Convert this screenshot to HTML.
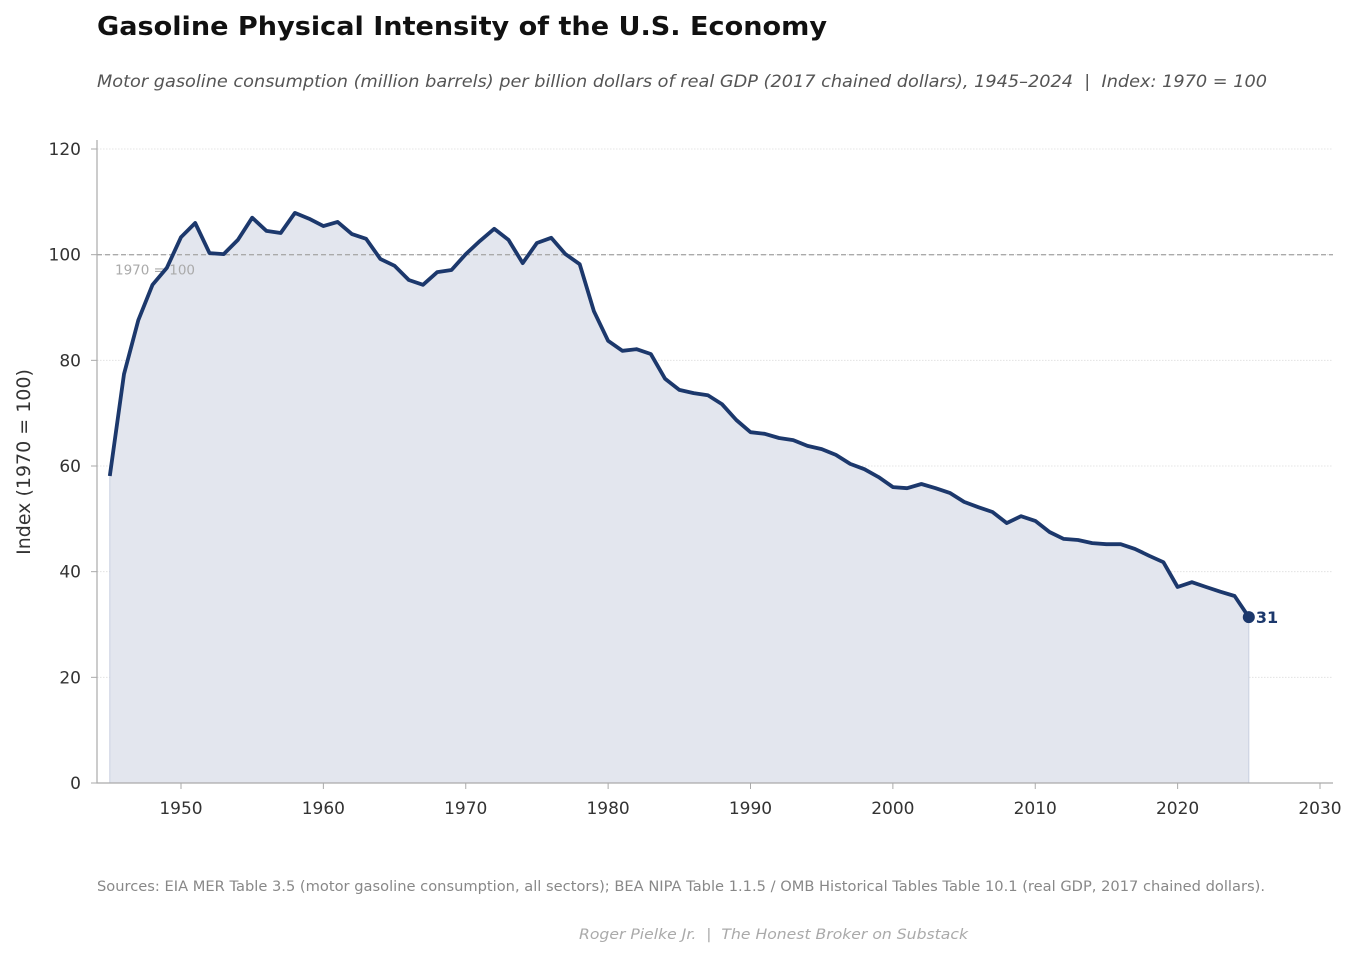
<!DOCTYPE html>
<html><head><meta charset="utf-8"><style>
body{margin:0;background:#fff;font-family:"Liberation Sans","DejaVu Sans",sans-serif}
svg text{font-family:"DejaVu Sans","Liberation Sans",sans-serif;white-space:pre}
</style></head><body>
<svg id="chart" width="1358" height="958" xmlns="http://www.w3.org/2000/svg">
<text x="97" y="35" font-size="26" font-weight="bold" fill="#111" textLength="730" lengthAdjust="spacingAndGlyphs">Gasoline Physical Intensity of the U.S. Economy</text>
<text x="97" y="87" font-size="17" font-style="italic" fill="#555" textLength="1170" lengthAdjust="spacingAndGlyphs" xml:space="preserve">Motor gasoline consumption (million barrels) per billion dollars of real GDP (2017 chained dollars), 1945–2024  |  Index: 1970 = 100</text>
<g id="grid"></g>
<g id="plot"></g>
<g id="axes"></g>
<text transform="translate(30,462) rotate(-90)" text-anchor="middle" font-size="19" fill="#333">Index (1970 = 100)</text>
<text x="97" y="891" font-size="14" fill="#888" textLength="1168" lengthAdjust="spacingAndGlyphs">Sources: EIA MER Table 3.5 (motor gasoline consumption, all sectors); BEA NIPA Table 1.1.5 / OMB Historical Tables Table 10.1 (real GDP, 2017 chained dollars).</text>
<text x="579" y="939" font-size="14.5" font-style="italic" fill="#aaa" textLength="389" lengthAdjust="spacingAndGlyphs" xml:space="preserve">Roger Pielke Jr.  |  The Honest Broker on Substack</text>
</svg>
<script>
const years=[];for(let y=1945;y<=2025;y++)years.push(y);
const values=[58.1,77.4,87.6,94.3,97.5,103.3,106,100.3,100.1,102.8,107,104.5,104.1,107.9,106.8,105.4,106.2,103.9,103,99.2,97.9,95.2,94.3,96.7,97.1,100.1,102.6,104.9,102.8,98.4,102.2,103.2,100.1,98.2,89.3,83.7,81.8,82.1,81.2,76.5,74.4,73.8,73.4,71.7,68.7,66.4,66.1,65.3,64.9,63.8,63.2,62.1,60.4,59.4,57.9,56,55.8,56.6,55.8,54.9,53.2,52.2,51.3,49.2,50.5,49.6,47.5,46.2,46,45.4,45.2,45.2,44.3,43,41.8,37.1,38,37.1,36.2,35.4,31.4];
const xTicks=[1950,1960,1970,1980,1990,2000,2010,2020,2030];
const yTicks=[0,20,40,60,80,100,120];
const refValue=100;
const NS="http://www.w3.org/2000/svg";
const X=y=>181+(y-1950)*14.2375;
const Y=v=>783-v*5.2833;
const L=97,R=1333,T=140,B=783;
function mk(tag,attrs,parent){const e=document.createElementNS(NS,tag);for(const k in attrs)e.setAttribute(k,attrs[k]);parent.appendChild(e);return e;}
const grid=document.getElementById('grid'),plot=document.getElementById('plot'),axes=document.getElementById('axes');
yTicks.forEach(v=>{if(v>0){const g=mk('line',{x1:L,x2:R,y1:Y(v),y2:Y(v),stroke:'#ddd','stroke-width':0.8,'stroke-dasharray':'1.5,1.5'},grid);

}});
let pts=years.map((y,i)=>X(y).toFixed(1)+','+Y(values[i]).toFixed(1));
const area=mk('polygon',{points:X(years[0])+','+Y(0)+' '+pts.join(' ')+' '+X(years[years.length-1])+','+Y(0),fill:'#e3e6ee',stroke:'#c9d0e0','stroke-width':1},plot);


const ref=mk('line',{x1:L,x2:R,y1:Y(refValue),y2:Y(refValue),stroke:'#aaa','stroke-width':1.3,'stroke-dasharray':'5,3'},plot);


const rl=mk('text',{x:115,y:Y(refValue)+20,'font-size':13.5,fill:'#aaa'},plot);rl.textContent='1970 = 100';


const line=mk('polyline',{points:pts.join(' '),fill:'none',stroke:'#1c386c','stroke-width':3.8,'stroke-linejoin':'round'},plot);


const n=values.length-1;
const dot=mk('circle',{cx:X(years[n]),cy:Y(values[n]),r:6,fill:'#1c386c'},plot);


const lab=mk('text',{x:X(years[n])+7,y:Y(values[n])+6,'font-size':16,'font-weight':'bold',fill:'#1c386c'},plot);lab.textContent=Math.round(values[n]);


const sp=mk('path',{d:`M${L},${T} V${B} H${R}`,fill:'none',stroke:'#aaa','stroke-width':1.2},axes);


yTicks.forEach(v=>{mk('line',{x1:L-6,x2:L,y1:Y(v),y2:Y(v),stroke:'#aaa'},axes);
const t=mk('text',{x:L-16,y:Y(v)+6,'text-anchor':'end','font-size':17,fill:'#333'},axes);t.textContent=v;

});
xTicks.forEach(y=>{mk('line',{x1:X(y),x2:X(y),y1:B,y2:B+6,stroke:'#aaa'},axes);
const t=mk('text',{x:X(y),y:B+31,'text-anchor':'middle','font-size':17,fill:'#333'},axes);t.textContent=y;

});
</script>
</body></html>
